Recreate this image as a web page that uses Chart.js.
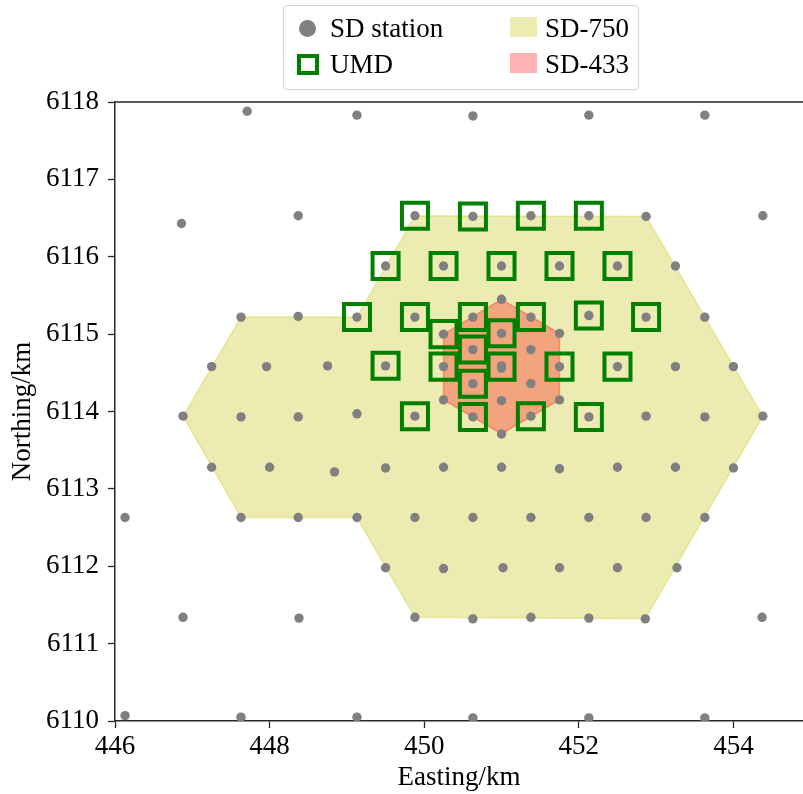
<!DOCTYPE html>
<html>
<head>
<meta charset="utf-8">
<script src="https://cdn.jsdelivr.net/npm/chart.js@4/dist/chart.umd.min.js"></script>
<style>
    body { margin: 0; background: #fff; }
    #wrap { position: relative; width: 803px; height: 794px; }
    #map { display: block; }
    #legend { position: absolute; left: 283px; top: 5px; width: 354px; height: 83px;
              border: 1px solid #d4d4d4; border-radius: 4px; background: rgba(255,255,255,0.8);
              font-family: "Liberation Serif", serif; font-size: 27px; color: #000; }
    #legend div { position: absolute; }
    .lbl { line-height: 30px; white-space: nowrap; }
</style>
</head>
<body>
<div id="wrap">
    <canvas id="map" width="803" height="794"></canvas>
    <div id="legend">
        <div style="left:15px; top:14px; width:17px; height:17px; border-radius:50%; background:#808080;"></div>
        <div class="lbl" style="left:46px; top:7px;">SD station</div>
        <div style="left:13px; top:48px; width:14px; height:13px; border:4px solid #008000;"></div>
        <div class="lbl" style="left:46px; top:43px;">UMD</div>
        <div style="left:226px; top:11px; width:27px; height:20px; background:rgba(191,191,0,0.3);"></div>
        <div class="lbl" style="left:261px; top:7px;">SD-750</div>
        <div style="left:226px; top:47px; width:27px; height:20px; background:rgba(255,0,0,0.3);"></div>
        <div class="lbl" style="left:261px; top:43px;">SD-433</div>
    </div>
</div>
<script>
// axis ticks
const xTicks = [446, 448, 450, 452, 454];
const yTicks = [6110, 6111, 6112, 6113, 6114, 6115, 6116, 6117, 6118];

// SD stations (easting, northing) in km
const sdStations = [
    [447.71, 6117.88], [449.13, 6117.83], [450.63, 6117.82], [452.13, 6117.83], [453.63, 6117.83],
    [446.86, 6116.43], [448.37, 6116.53], [449.88, 6116.53], [450.63, 6116.52], [451.38, 6116.53],
    [452.13, 6116.53], [452.87, 6116.52], [454.38, 6116.53],
    [449.50, 6115.88], [450.25, 6115.88], [451.00, 6115.88], [451.75, 6115.88], [452.50, 6115.88], [453.25, 6115.88],
    [451.00, 6115.45],
    [447.63, 6115.22], [448.37, 6115.23], [449.13, 6115.22], [449.88, 6115.22], [450.63, 6115.22],
    [451.38, 6115.22], [452.13, 6115.24], [452.87, 6115.22], [453.63, 6115.22],
    [450.25, 6115.00], [451.00, 6115.01], [451.75, 6115.01],
    [450.63, 6114.80], [451.38, 6114.80],
    [447.25, 6114.58], [447.96, 6114.58], [448.75, 6114.59], [449.50, 6114.59], [450.25, 6114.58],
    [451.00, 6114.59], [451.00, 6114.56], [451.75, 6114.58], [452.50, 6114.58], [453.25, 6114.58], [454.00, 6114.58],
    [450.63, 6114.36], [451.38, 6114.36],
    [450.25, 6114.15], [451.00, 6114.14], [451.75, 6114.15],
    [446.88, 6113.94], [447.63, 6113.93], [448.37, 6113.93], [449.13, 6113.97], [449.88, 6113.94],
    [450.63, 6113.93], [451.38, 6113.94], [452.13, 6113.93], [452.87, 6113.94], [453.63, 6113.93], [454.38, 6113.94],
    [451.00, 6113.71],
    [447.25, 6113.28], [448.00, 6113.28], [448.84, 6113.22], [449.50, 6113.27], [450.25, 6113.28],
    [451.00, 6113.28], [451.75, 6113.26], [452.50, 6113.28], [453.25, 6113.28], [454.00, 6113.27],
    [446.13, 6112.63], [447.63, 6112.63], [448.37, 6112.63], [449.13, 6112.63], [449.88, 6112.63],
    [450.63, 6112.63], [451.38, 6112.63], [452.13, 6112.63], [452.87, 6112.63], [453.63, 6112.63],
    [449.50, 6111.98], [450.25, 6111.97], [451.02, 6111.98], [451.75, 6111.98], [452.50, 6111.98], [453.27, 6111.98],
    [446.88, 6111.34], [448.38, 6111.33], [449.88, 6111.34], [450.63, 6111.32], [451.38, 6111.34],
    [452.13, 6111.33], [452.86, 6111.32], [454.37, 6111.34],
    [446.13, 6110.07], [447.63, 6110.05], [449.13, 6110.05], [450.63, 6110.04], [452.13, 6110.04], [453.63, 6110.04]
];

// stations with underground muon detectors
const umdStations = [
    [449.88, 6116.53], [450.63, 6116.52], [451.38, 6116.53], [452.13, 6116.53],
    [449.50, 6115.88], [450.25, 6115.88], [451.00, 6115.88], [451.75, 6115.88], [452.50, 6115.88],
    [449.13, 6115.22], [449.88, 6115.22], [450.63, 6115.22], [451.38, 6115.22], [452.13, 6115.24], [452.87, 6115.22],
    [450.25, 6115.00], [451.00, 6115.01],
    [450.63, 6114.80],
    [449.50, 6114.59], [450.25, 6114.58], [451.00, 6114.58], [451.75, 6114.58], [452.50, 6114.58],
    [450.63, 6114.36],
    [449.88, 6113.94], [450.63, 6113.93], [451.38, 6113.94], [452.13, 6113.93]
];

// array outlines
const sd750Hull = [
    [449.88, 6116.53], [452.87, 6116.52], [454.38, 6113.94], [452.86, 6111.32], [449.88, 6111.34],
    [449.13, 6112.63], [447.63, 6112.63], [446.88, 6113.94], [447.63, 6115.22], [449.13, 6115.22],
    [449.88, 6116.53]
];
const sd433Hull = [
    [451.00, 6115.45], [451.75, 6115.01], [451.75, 6114.15], [451.00, 6113.71],
    [450.25, 6114.15], [450.25, 6115.00], [451.00, 6115.45]
];

const toXY = arr => arr.map(p => ({x: p[0], y: p[1]}));
const font = {family: "'Liberation Serif', serif", size: 27};
const spineColor = '#262626';

const topSpine = {
    id: 'topSpine',
    afterDraw(chart) {
        const {ctx, chartArea} = chart;
        ctx.save();
        ctx.strokeStyle = spineColor;
        ctx.lineWidth = 1.5;
        ctx.beginPath();
        ctx.moveTo(chartArea.left, chartArea.top);
        ctx.lineTo(chartArea.right, chartArea.top);
        ctx.stroke();
        ctx.restore();
    }
};

new Chart(document.getElementById('map'), {
    type: 'scatter',
    data: {
        datasets: [{
            label: 'SD station',
            data: toXY(sdStations),
            pointRadius: 4.7,
            pointBackgroundColor: '#808080',
            pointBorderWidth: 0
        }, {
            label: 'UMD',
            data: toXY(umdStations),
            pointStyle: 'rect',
            pointRadius: 18.4,
            pointBackgroundColor: 'rgba(0,0,0,0)',
            pointBorderColor: '#008000',
            pointBorderWidth: 4
        }, {
            label: 'SD-433',
            data: toXY(sd433Hull),
            showLine: true,
            fill: 'shape',
            tension: 0,
            pointRadius: 0,
            borderWidth: 1.5,
            borderColor: 'rgba(255,0,0,0.3)',
            backgroundColor: 'rgba(255,0,0,0.3)'
        }, {
            label: 'SD-750',
            data: toXY(sd750Hull),
            showLine: true,
            fill: 'shape',
            tension: 0,
            pointRadius: 0,
            borderWidth: 1.5,
            borderColor: 'rgba(191,191,0,0.3)',
            backgroundColor: 'rgba(191,191,0,0.3)'
        }]
    },
    options: {
        responsive: false,
        animation: false,
        devicePixelRatio: 1,
        layout: {autoPadding: false, padding: {top: 102, right: 0, left: 0, bottom: 0}},
        plugins: {
            legend: {display: false},
            tooltip: {enabled: false}
        },
        scales: {
            x: {
                type: 'linear',
                min: 446,
                max: 454.9,
                afterBuildTicks: s => { s.ticks = xTicks.map(v => ({value: v})); },
                afterFit: s => { s.height = 73; s.paddingLeft = 0; s.paddingRight = 0; },
                grid: {drawOnChartArea: false, tickLength: 7, tickWidth: 1.3, tickColor: spineColor},
                border: {color: spineColor, width: 1.5},
                ticks: {font: font, color: '#000', padding: 3, maxRotation: 0, callback: v => String(v)},
                title: {display: true, text: 'Easting/km', font: font, color: '#000', padding: {top: 0, bottom: 0}}
            },
            y: {
                type: 'linear',
                min: 6110,
                max: 6118,
                afterBuildTicks: s => { s.ticks = yTicks.map(v => ({value: v})); },
                afterFit: s => { s.width = 115; s.paddingTop = 0; s.paddingBottom = 0; },
                grid: {drawOnChartArea: false, tickLength: 7, tickWidth: 1.3, tickColor: spineColor},
                border: {color: spineColor, width: 1.5},
                ticks: {font: font, color: '#000', padding: 9, callback: v => String(v)},
                title: {display: true, text: 'Northing/km', font: font, color: '#000', padding: {top: 7, bottom: 0}}
            }
        }
    },
    plugins: [topSpine]
});
</script>
</body>
</html>
